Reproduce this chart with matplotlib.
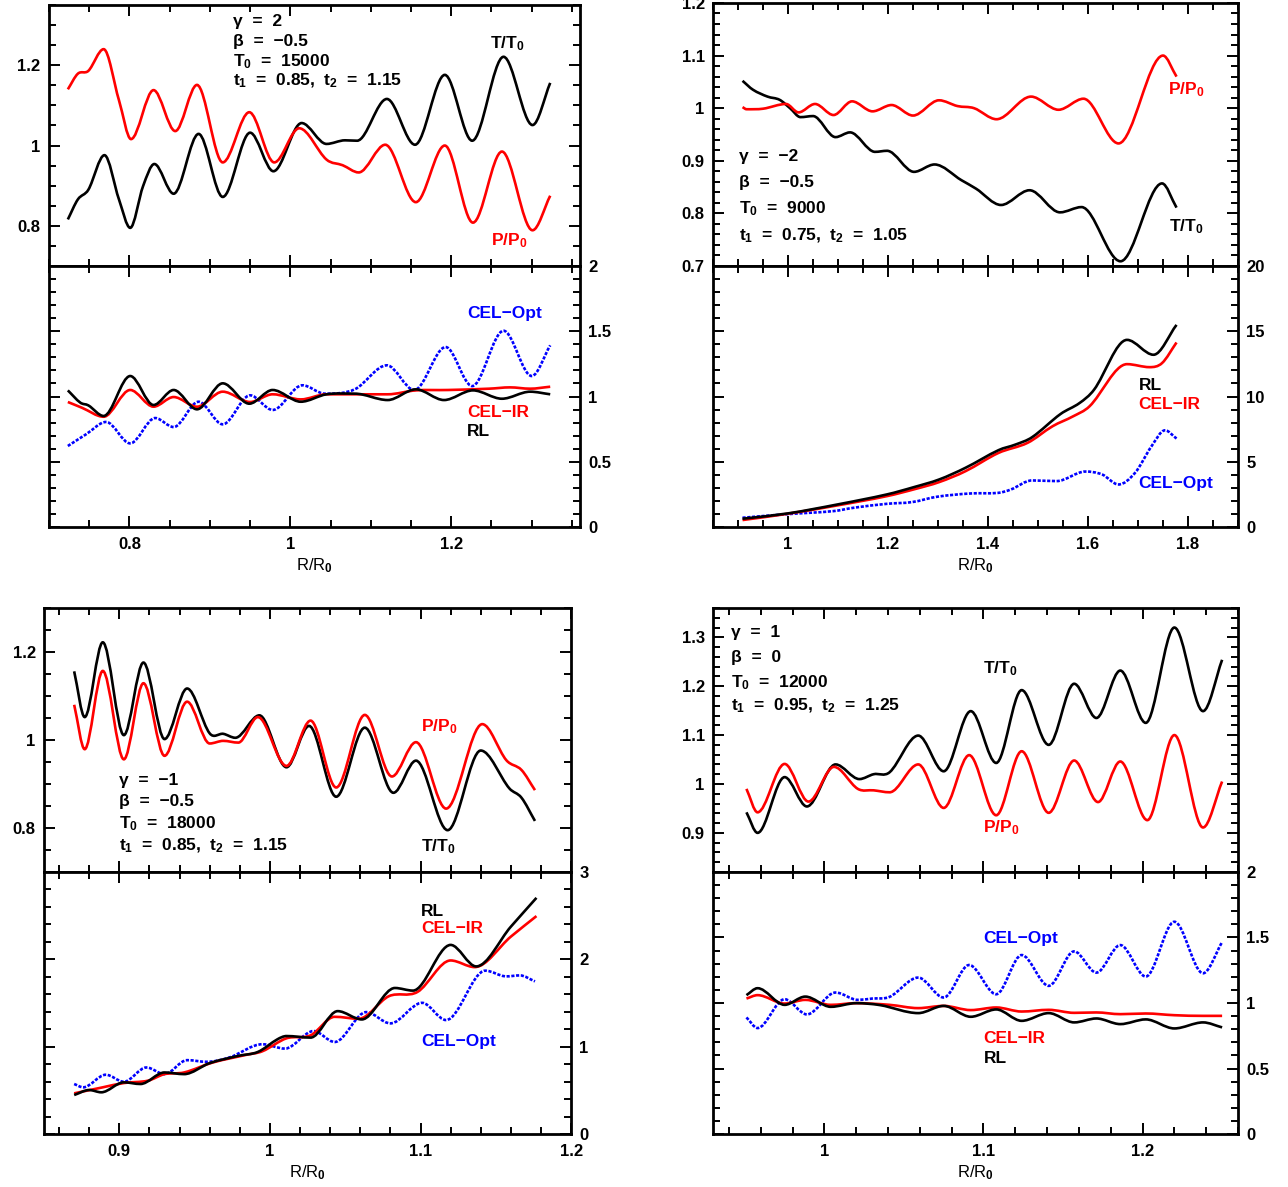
import matplotlib
matplotlib.use("Agg")
import matplotlib.pyplot as plt
from matplotlib.path import Path
from matplotlib.patches import PathPatch
from matplotlib.ticker import MultipleLocator, FuncFormatter
import numpy as np

plt.rcParams['font.family'] = ['Liberation Sans', 'DejaVu Sans']
plt.rcParams['font.weight'] = 'bold'
plt.rcParams['mathtext.fontset'] = 'custom'
plt.rcParams['mathtext.rm'] = 'Liberation Sans:bold'
plt.rcParams['mathtext.bf'] = 'Liberation Sans:bold'
plt.rcParams['mathtext.it'] = 'Liberation Sans:bold'

# ---------------- Panel A (gamma=2) ----------------
A_T_x = [0.7235, 0.736, 0.749, 0.769, 0.787, 0.801, 0.817, 0.831, 0.855, 0.886, 0.916, 0.950, 0.979, 1.014, 1.045, 1.068, 1.083, 1.120, 1.155, 1.192, 1.226, 1.265, 1.301, 1.323]
A_T_y = [0.816, 0.866, 0.890, 0.976, 0.866, 0.795, 0.899, 0.954, 0.880, 1.029, 0.872, 1.032, 0.936, 1.056, 1.004, 1.013, 1.012, 1.116, 1.002, 1.176, 1.012, 1.221, 1.051, 1.156]
A_P_x = [0.7235, 0.736, 0.749, 0.768, 0.787, 0.802, 0.830, 0.857, 0.884, 0.916, 0.949, 0.980, 1.011, 1.045, 1.065, 1.085, 1.118, 1.156, 1.192, 1.227, 1.263, 1.301, 1.323]
A_P_y = [1.140, 1.179, 1.186, 1.240, 1.113, 1.016, 1.138, 1.036, 1.151, 0.958, 1.083, 0.958, 1.043, 0.965, 0.951, 0.933, 1.002, 0.859, 1.000, 0.808, 0.985, 0.789, 0.875]
A_RL_x = [0.7235, 0.739, 0.749, 0.768, 0.801, 0.830, 0.855, 0.884, 0.916, 0.949, 0.978, 1.013, 1.045, 1.080, 1.121, 1.156, 1.191, 1.227, 1.263, 1.298, 1.323]
A_RL_y = [1.047, 0.953, 0.932, 0.851, 1.157, 0.935, 1.050, 0.902, 1.101, 0.945, 1.050, 0.960, 1.017, 1.022, 0.973, 1.055, 0.973, 1.047, 0.983, 1.037, 1.017]
A_IR_x = [0.7235, 0.741, 0.768, 0.801, 0.830, 0.855, 0.884, 0.916, 0.950, 0.978, 1.013, 1.045, 1.085, 1.121, 1.156, 1.196, 1.247, 1.273, 1.298, 1.323]
A_IR_y = [0.958, 0.914, 0.845, 1.050, 0.922, 0.996, 0.922, 1.037, 0.958, 1.017, 0.978, 1.017, 1.017, 1.017, 1.047, 1.050, 1.060, 1.070, 1.060, 1.075]
A_OPT_x = [0.7235, 0.746, 0.771, 0.801, 0.832, 0.855, 0.886, 0.916, 0.950, 0.978, 1.015, 1.043, 1.080, 1.120, 1.154, 1.193, 1.226, 1.265, 1.300, 1.323]
A_OPT_y = [0.621, 0.710, 0.805, 0.641, 0.835, 0.766, 0.960, 0.787, 1.009, 0.897, 1.086, 1.022, 1.055, 1.239, 1.050, 1.379, 1.080, 1.504, 1.157, 1.392]

# ---------------- Panel B (gamma=-2) ----------------
B_T_x = [0.909, 0.930, 0.959, 0.983, 1.004, 1.025, 1.050, 1.095, 1.124, 1.174, 1.198, 1.252, 1.293, 1.347, 1.376, 1.426, 1.483, 1.544, 1.587, 1.665, 1.748, 1.777]
B_T_y = [1.052, 1.035, 1.022, 1.016, 1.000, 0.983, 0.985, 0.945, 0.954, 0.917, 0.919, 0.879, 0.893, 0.863, 0.847, 0.816, 0.844, 0.802, 0.812, 0.709, 0.857, 0.811]
B_P_x = [0.909, 0.917, 0.950, 0.996, 1.021, 1.054, 1.091, 1.128, 1.169, 1.207, 1.250, 1.302, 1.339, 1.372, 1.417, 1.486, 1.541, 1.591, 1.661, 1.750, 1.777]
B_P_y = [1.002, 0.998, 0.999, 1.008, 0.992, 1.008, 0.987, 1.013, 0.994, 1.006, 0.986, 1.015, 1.004, 1.000, 0.979, 1.022, 0.997, 1.018, 0.933, 1.100, 1.060]
B_RL_x = [0.909, 1.000, 1.099, 1.198, 1.252, 1.302, 1.355, 1.421, 1.455, 1.488, 1.545, 1.583, 1.612, 1.678, 1.731, 1.777]
B_RL_y = [0.637, 1.045, 1.73, 2.50, 3.06, 3.64, 4.54, 5.89, 6.32, 6.88, 8.66, 9.50, 10.52, 14.34, 13.20, 15.49]
B_IR_x = [0.909, 1.000, 1.099, 1.198, 1.256, 1.302, 1.355, 1.421, 1.479, 1.529, 1.570, 1.603, 1.678, 1.723, 1.748, 1.777]
B_IR_y = [0.535, 1.02, 1.66, 2.37, 2.93, 3.44, 4.28, 5.68, 6.45, 7.72, 8.48, 9.25, 12.48, 12.25, 12.56, 14.14]
B_OPT_x = [0.909, 1.000, 1.091, 1.132, 1.198, 1.248, 1.298, 1.364, 1.421, 1.446, 1.488, 1.537, 1.595, 1.628, 1.661, 1.694, 1.727, 1.754, 1.777]
B_OPT_y = [0.71, 0.99, 1.22, 1.48, 1.78, 1.91, 2.32, 2.57, 2.62, 2.88, 3.57, 3.52, 4.25, 4.03, 3.26, 4.15, 6.19, 7.41, 6.78]

# ---------------- Panel C (gamma=-1) ----------------
C_T_x = [0.870, 0.877, 0.889, 0.903, 0.916, 0.930, 0.945, 0.960, 0.969, 0.977, 0.993, 1.011, 1.026, 1.044, 1.063, 1.082, 1.097, 1.118, 1.140, 1.159, 1.167, 1.176]
C_T_y = [1.156, 1.052, 1.222, 1.011, 1.176, 1.002, 1.117, 1.015, 1.014, 1.005, 1.056, 0.938, 1.032, 0.871, 1.028, 0.880, 0.953, 0.795, 0.976, 0.890, 0.869, 0.816]
C_P_x = [0.870, 0.877, 0.889, 0.903, 0.916, 0.930, 0.945, 0.960, 0.969, 0.979, 0.992, 1.011, 1.027, 1.044, 1.063, 1.081, 1.097, 1.117, 1.141, 1.157, 1.167, 1.176]
C_P_y = [1.080, 0.979, 1.157, 0.956, 1.129, 0.964, 1.087, 0.992, 0.998, 0.994, 1.052, 0.941, 1.044, 0.892, 1.057, 0.917, 0.995, 0.844, 1.036, 0.954, 0.932, 0.886]
C_RL_x = [0.870, 0.880, 0.888, 0.903, 0.914, 0.930, 0.943, 0.960, 0.979, 0.992, 1.005, 1.011, 1.027, 1.045, 1.061, 1.083, 1.095, 1.120, 1.137, 1.160, 1.177]
C_RL_y = [0.447, 0.504, 0.478, 0.592, 0.573, 0.705, 0.686, 0.812, 0.895, 0.940, 1.085, 1.122, 1.104, 1.407, 1.312, 1.672, 1.642, 2.165, 1.919, 2.374, 2.704]
C_IR_x = [0.870, 0.889, 0.903, 0.919, 0.930, 0.943, 0.962, 0.984, 0.995, 1.011, 1.027, 1.043, 1.059, 1.079, 1.098, 1.120, 1.136, 1.160, 1.177]
C_IR_y = [0.466, 0.535, 0.584, 0.611, 0.686, 0.705, 0.819, 0.906, 0.948, 1.096, 1.130, 1.342, 1.320, 1.578, 1.627, 1.987, 1.911, 2.260, 2.495]
C_OPT_x = [0.870, 0.876, 0.891, 0.903, 0.918, 0.930, 0.945, 0.958, 0.973, 0.995, 1.010, 1.029, 1.043, 1.064, 1.080, 1.101, 1.117, 1.143, 1.157, 1.166, 1.176]
C_OPT_y = [0.573, 0.535, 0.679, 0.599, 0.762, 0.686, 0.846, 0.827, 0.876, 1.028, 0.978, 1.179, 1.054, 1.396, 1.267, 1.502, 1.305, 1.870, 1.805, 1.816, 1.748]

# ---------------- Panel D (gamma=1) ----------------
D_T_x = [0.951, 0.958, 0.975, 0.989, 1.007, 1.022, 1.031, 1.041, 1.059, 1.075, 1.092, 1.108, 1.124, 1.141, 1.157, 1.171, 1.186, 1.202, 1.220, 1.238, 1.250]
D_T_y = [0.942, 0.900, 1.014, 0.954, 1.040, 1.010, 1.020, 1.024, 1.099, 1.026, 1.149, 1.043, 1.192, 1.080, 1.205, 1.135, 1.232, 1.125, 1.320, 1.149, 1.254]
D_P_x = [0.951, 0.958, 0.975, 0.990, 1.006, 1.021, 1.031, 1.041, 1.059, 1.075, 1.091, 1.108, 1.124, 1.141, 1.157, 1.172, 1.186, 1.203, 1.220, 1.238, 1.250]
D_P_y = [0.990, 0.942, 1.041, 0.964, 1.035, 0.990, 0.987, 0.983, 1.040, 0.951, 1.059, 0.936, 1.067, 0.941, 1.048, 0.963, 1.046, 0.926, 1.100, 0.911, 1.005]
D_RL_x = [0.951, 0.958, 0.975, 0.988, 1.004, 1.020, 1.035, 1.059, 1.075, 1.092, 1.108, 1.124, 1.141, 1.157, 1.171, 1.186, 1.202, 1.220, 1.238, 1.250]
D_RL_y = [1.060, 1.113, 0.986, 1.049, 0.971, 0.999, 0.984, 0.923, 0.978, 0.895, 0.951, 0.864, 0.923, 0.852, 0.882, 0.839, 0.875, 0.806, 0.852, 0.814]
D_IR_x = [0.951, 0.958, 0.975, 0.988, 1.004, 1.020, 1.041, 1.059, 1.075, 1.092, 1.108, 1.124, 1.141, 1.157, 1.171, 1.186, 1.202, 1.220, 1.238, 1.250]
D_IR_y = [1.034, 1.060, 0.996, 1.024, 0.986, 0.999, 0.986, 0.961, 0.978, 0.946, 0.966, 0.935, 0.948, 0.925, 0.928, 0.915, 0.920, 0.907, 0.902, 0.902]
D_OPT_x = [0.951, 0.958, 0.975, 0.989, 1.007, 1.021, 1.030, 1.041, 1.059, 1.075, 1.091, 1.108, 1.124, 1.141, 1.157, 1.171, 1.186, 1.202, 1.220, 1.238, 1.250]
D_OPT_y = [0.890, 0.809, 1.029, 0.913, 1.080, 1.024, 1.034, 1.047, 1.194, 1.042, 1.290, 1.067, 1.366, 1.131, 1.394, 1.232, 1.442, 1.202, 1.620, 1.227, 1.465]

# Parameter annotations
A_params = ['γ  =  2', 'β  =  −0.5', 'T$_\\mathbf{0}$  =  15000', 't$_\\mathbf{1}$  =  0.85,  t$_\\mathbf{2}$  =  1.15']
B_params = ['γ  =  −2', 'β  =  −0.5', 'T$_\\mathbf{0}$  =  9000', 't$_\\mathbf{1}$  =  0.75,  t$_\\mathbf{2}$  =  1.05']
C_params = ['γ  =  −1', 'β  =  −0.5', 'T$_\\mathbf{0}$  =  18000', 't$_\\mathbf{1}$  =  0.85,  t$_\\mathbf{2}$  =  1.15']
D_params = ['γ  =  1', 'β  =  0', 'T$_\\mathbf{0}$  =  12000', 't$_\\mathbf{1}$  =  0.95,  t$_\\mathbf{2}$  =  1.25']

BLACK = 'black'
RED = '#ff0000'
BLUE = '#0000ff'
LW = 1.9
FS = 12.5


def smooth_path(x, y):
    x = np.asarray(x, float)
    y = np.asarray(y, float)
    n = len(x)
    m = np.zeros(n)
    for i in range(n):
        if i == 0:
            m[i] = (y[1] - y[0]) / (x[1] - x[0])
        elif i == n - 1:
            m[i] = (y[-1] - y[-2]) / (x[-1] - x[-2])
        else:
            if (y[i] - y[i - 1]) * (y[i + 1] - y[i]) <= 0:
                m[i] = 0.0
            else:
                m[i] = (y[i + 1] - y[i - 1]) / (x[i + 1] - x[i - 1])
    verts = [(x[0], y[0])]
    codes = [Path.MOVETO]
    for i in range(n - 1):
        dx = x[i + 1] - x[i]
        verts.append((x[i] + dx / 3, y[i] + m[i] * dx / 3))
        verts.append((x[i + 1] - dx / 3, y[i + 1] - m[i + 1] * dx / 3))
        verts.append((x[i + 1], y[i + 1]))
        codes += [Path.CURVE4] * 3
    return Path(verts, codes)


def curve(ax, x, y, color, ls='-'):
    ax.add_patch(PathPatch(smooth_path(x, y), facecolor='none', edgecolor=color,
                           lw=LW, linestyle=ls, capstyle='butt', joinstyle='round'))


fmt = FuncFormatter(lambda v, p: ('%g' % round(v, 6)))


def style(ax, xlim, ylim, xmaj, xmin, ymaj, ymin, top):
    ax.set_xlim(*xlim)
    ax.set_ylim(*ylim)
    ax.xaxis.set_major_locator(MultipleLocator(xmaj))
    ax.xaxis.set_minor_locator(MultipleLocator(xmin))
    ax.yaxis.set_major_locator(MultipleLocator(ymaj))
    ax.yaxis.set_minor_locator(MultipleLocator(ymin))
    ax.xaxis.set_major_formatter(fmt)
    ax.yaxis.set_major_formatter(fmt)
    for s in ax.spines.values():
        s.set_linewidth(2.0)
    ax.tick_params(which='both', direction='in', top=True, right=True,
                   bottom=True, left=True, width=1.4, labelsize=12)
    ax.tick_params(which='major', length=8)
    ax.tick_params(which='minor', length=5)
    if top:
        ax.tick_params(labelbottom=False, pad=6)
    else:
        ax.tick_params(labelleft=False, labelright=True, pad=6)
        ax.tick_params(axis='x', pad=7)
        ax.set_xlabel('R/R$_\\mathbf{0}$', fontsize=12, labelpad=3)


def params(ax, x, ys, lines):
    for yy, t in zip(ys, lines):
        ax.text(x, yy, t, fontsize=FS, va='center', ha='left', color='black')


fig = plt.figure(figsize=(12.88, 11.87), dpi=100)

# Panel A
axA1 = fig.add_axes([0.0380, 0.7759, 0.4123, 0.2199])
axA2 = fig.add_axes([0.0380, 0.5560, 0.4123, 0.2199])
style(axA1, (0.70, 1.36), (0.70, 1.35), 0.2, 0.05, 0.2, 0.05, True)
style(axA2, (0.70, 1.36), (0, 2), 0.2, 0.05, 0.5, 0.1, False)
curve(axA1, A_T_x, A_T_y, BLACK)
curve(axA1, A_P_x, A_P_y, RED)
curve(axA2, A_OPT_x, A_OPT_y, BLUE, (0, (1.2, 0.6)))
curve(axA2, A_IR_x, A_IR_y, RED)
curve(axA2, A_RL_x, A_RL_y, BLACK)
params(axA1, 0.929, [1.308, 1.260, 1.210, 1.160], A_params)
axA1.text(1.248, 1.253, 'T/T$_\\mathbf{0}$', fontsize=FS, va='center', color=BLACK)
axA1.text(1.250, 0.762, 'P/P$_\\mathbf{0}$', fontsize=FS, va='center', color=RED)
axA2.text(1.220, 1.637, 'CEL−Opt', fontsize=FS, va='center', color=BLUE)
axA2.text(1.220, 0.881, 'CEL−IR', fontsize=FS, va='center', color=RED)
axA2.text(1.220, 0.730, 'RL', fontsize=FS, va='center', color=BLACK)

# Panel B
axB1 = fig.add_axes([0.5536, 0.7759, 0.4076, 0.2216])
axB2 = fig.add_axes([0.5536, 0.5560, 0.4076, 0.2199])
style(axB1, (0.85, 1.90), (0.70, 1.20), 0.2, 0.05, 0.1, 0.02, True)
style(axB2, (0.85, 1.90), (0, 20), 0.2, 0.05, 5, 1, False)
curve(axB1, B_T_x, B_T_y, BLACK)
curve(axB1, B_P_x, B_P_y, RED)
curve(axB2, B_OPT_x, B_OPT_y, BLUE, (0, (1.2, 0.6)))
curve(axB2, B_IR_x, B_IR_y, RED)
curve(axB2, B_RL_x, B_RL_y, BLACK)
params(axB1, 0.901, [0.909, 0.858, 0.809, 0.758], B_params)
axB1.text(1.760, 1.036, 'P/P$_\\mathbf{0}$', fontsize=FS, va='center', color=RED)
axB1.text(1.762, 0.775, 'T/T$_\\mathbf{0}$', fontsize=FS, va='center', color=BLACK)
axB2.text(1.701, 10.85, 'RL', fontsize=FS, va='center', color=BLACK)
axB2.text(1.701, 9.38, 'CEL−IR', fontsize=FS, va='center', color=RED)
axB2.text(1.701, 3.34, 'CEL−Opt', fontsize=FS, va='center', color=BLUE)

# Panel C
axC1 = fig.add_axes([0.0342, 0.2654, 0.4092, 0.2224])
axC2 = fig.add_axes([0.0342, 0.0446, 0.4092, 0.2208])
style(axC1, (0.85, 1.20), (0.70, 1.30), 0.1, 0.02, 0.2, 0.05, True)
style(axC2, (0.85, 1.20), (0, 3), 0.1, 0.02, 1, 0.2, False)
curve(axC1, C_T_x, C_T_y, BLACK)
curve(axC1, C_P_x, C_P_y, RED)
curve(axC2, C_OPT_x, C_OPT_y, BLUE, (0, (1.2, 0.6)))
curve(axC2, C_IR_x, C_IR_y, RED)
curve(axC2, C_RL_x, C_RL_y, BLACK)
params(axC1, 0.900, [0.909, 0.860, 0.810, 0.759], C_params)
axC1.text(1.1005, 1.030, 'P/P$_\\mathbf{0}$', fontsize=FS, va='center', color=RED)
axC1.text(1.1005, 0.757, 'T/T$_\\mathbf{0}$', fontsize=FS, va='center', color=BLACK)
axC2.text(1.1005, 2.552, 'RL', fontsize=FS, va='center', color=BLACK)
axC2.text(1.1005, 2.355, 'CEL−IR', fontsize=FS, va='center', color=RED)
axC2.text(1.1005, 1.054, 'CEL−Opt', fontsize=FS, va='center', color=BLUE)

# Panel D
axD1 = fig.add_axes([0.5536, 0.2654, 0.4076, 0.2224])
axD2 = fig.add_axes([0.5536, 0.0446, 0.4076, 0.2208])
style(axD1, (0.93, 1.26), (0.82, 1.36), 0.1, 0.02, 0.1, 0.02, True)
style(axD2, (0.93, 1.26), (0, 2), 0.1, 0.02, 0.5, 0.1, False)
curve(axD1, D_T_x, D_T_y, BLACK)
curve(axD1, D_P_x, D_P_y, RED)
curve(axD2, D_OPT_x, D_OPT_y, BLUE, (0, (1.2, 0.6)))
curve(axD2, D_IR_x, D_IR_y, RED)
curve(axD2, D_RL_x, D_RL_y, BLACK)
params(axD1, 0.941, [1.309, 1.259, 1.208, 1.159], D_params)
axD1.text(1.100, 1.235, 'T/T$_\\mathbf{0}$', fontsize=FS, va='center', color=BLACK)
axD1.text(1.100, 0.910, 'P/P$_\\mathbf{0}$', fontsize=FS, va='center', color=RED)
axD2.text(1.100, 1.490, 'CEL−Opt', fontsize=FS, va='center', color=BLUE)
axD2.text(1.100, 0.733, 'CEL−IR', fontsize=FS, va='center', color=RED)
axD2.text(1.100, 0.578, 'RL', fontsize=FS, va='center', color=BLACK)

fig.savefig('out.png', dpi=100)
